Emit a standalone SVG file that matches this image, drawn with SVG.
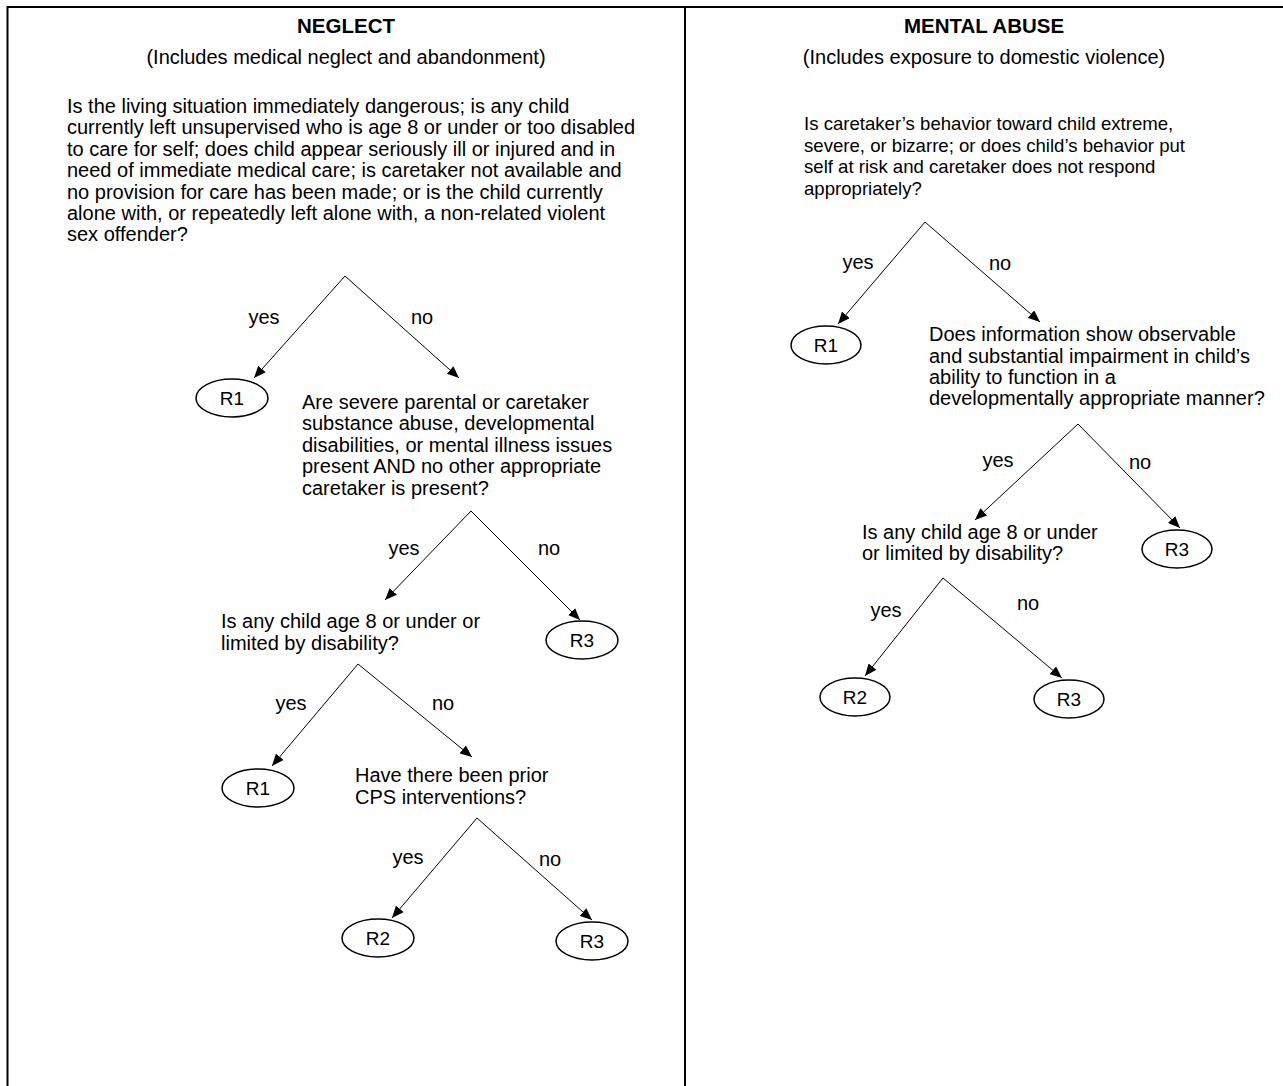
<svg xmlns="http://www.w3.org/2000/svg" width="1283" height="1086" viewBox="0 0 1283 1086">
<style>
text{font-family:"Liberation Sans",Arial,sans-serif;font-size:20px;fill:#000}
.h{font-weight:bold;font-size:20.5px;text-anchor:middle}
.c{text-anchor:middle}
.lbl{text-anchor:middle}
.rt{text-anchor:middle;font-size:19px}
.sm{font-size:18.6px}
.r{fill:#fff;stroke:#000;stroke-width:1.5}
.ln{stroke:#000;stroke-width:1;fill:none;marker-end:url(#ah)}
.b{stroke:#000;stroke-width:2;fill:none}
</style>
<defs>
<marker id="ah" markerUnits="userSpaceOnUse" markerWidth="12" markerHeight="10" refX="12" refY="5" orient="auto">
<path d="M0,0 L12,5 L0,10 z" fill="#000"/>
</marker>
</defs>
<rect width="1283" height="1086" fill="#fff"/>
<g id="frame">
<line class="b" x1="7" y1="7" x2="1283" y2="7"/>
<line class="b" x1="7.5" y1="6" x2="7.5" y2="1086"/>
<line class="b" x1="685" y1="6" x2="685" y2="1086"/>
</g>
<g id="connectors">
<line class="ln" x1="345" y1="276" x2="254" y2="378"/>
<line class="ln" x1="345" y1="276" x2="459" y2="378"/>
<line class="ln" x1="471" y1="511" x2="385" y2="600"/>
<line class="ln" x1="471" y1="511" x2="580" y2="620"/>
<line class="ln" x1="358" y1="664" x2="272" y2="766"/>
<line class="ln" x1="358" y1="664" x2="472" y2="757"/>
<line class="ln" x1="477" y1="818" x2="392" y2="918"/>
<line class="ln" x1="477" y1="818" x2="592" y2="920"/>
<line class="ln" x1="925" y1="222" x2="838" y2="324"/>
<line class="ln" x1="925" y1="222" x2="1040" y2="322"/>
<line class="ln" x1="1078" y1="424" x2="975" y2="520"/>
<line class="ln" x1="1078" y1="424" x2="1180" y2="528"/>
<line class="ln" x1="943" y1="578" x2="865" y2="676"/>
<line class="ln" x1="943" y1="578" x2="1062" y2="678"/>
<text class="lbl" x="264" y="324">yes</text>
<text class="lbl" x="422" y="324">no</text>
<text class="lbl" x="404" y="555">yes</text>
<text class="lbl" x="549" y="555">no</text>
<text class="lbl" x="291" y="710">yes</text>
<text class="lbl" x="443" y="710">no</text>
<text class="lbl" x="408" y="864">yes</text>
<text class="lbl" x="550" y="866">no</text>
<text class="lbl" x="858" y="269">yes</text>
<text class="lbl" x="1000" y="270">no</text>
<text class="lbl" x="998" y="467">yes</text>
<text class="lbl" x="1140" y="469">no</text>
<text class="lbl" x="886" y="617">yes</text>
<text class="lbl" x="1028" y="610">no</text>
</g>
<g id="neglect-title">
<text class="h" x="346" y="33">NEGLECT</text>
<text class="c" x="346" y="64">(Includes medical neglect and abandonment)</text>
</g>
<g id="n-q1">
<text x="67" y="113">Is the living situation immediately dangerous; is any child</text>
<text x="67" y="134">currently left unsupervised who is age 8 or under or too disabled</text>
<text x="67" y="156">to care for self; does child appear seriously ill or injured and in</text>
<text x="67" y="177">need of immediate medical care; is caretaker not available and</text>
<text x="67" y="199">no provision for care has been made; or is the child currently</text>
<text x="67" y="220">alone with, or repeatedly left alone with, a non-related violent</text>
<text x="67" y="241">sex offender?</text>
</g>
<g id="n-r1a"><ellipse class="r" cx="232" cy="398" rx="36" ry="19"/><text class="rt" x="232" y="405">R1</text></g>
<g id="n-q2">
<text x="302" y="409">Are severe parental or caretaker</text>
<text x="302" y="430">substance abuse, developmental</text>
<text x="302" y="452">disabilities, or mental illness issues</text>
<text x="302" y="473">present AND no other appropriate</text>
<text x="302" y="495">caretaker is present?</text>
</g>
<g id="n-q3">
<text x="221" y="628">Is any child age 8 or under or</text>
<text x="221" y="650">limited by disability?</text>
</g>
<g id="n-r3a"><ellipse class="r" cx="582" cy="640" rx="36" ry="19"/><text class="rt" x="582" y="647">R3</text></g>
<g id="n-r1b"><ellipse class="r" cx="258" cy="788" rx="36" ry="19"/><text class="rt" x="258" y="795">R1</text></g>
<g id="n-q4">
<text x="355" y="782">Have there been prior</text>
<text x="355" y="804">CPS interventions?</text>
</g>
<g id="n-r2"><ellipse class="r" cx="378" cy="938" rx="36" ry="19"/><text class="rt" x="378" y="945">R2</text></g>
<g id="n-r3b"><ellipse class="r" cx="592" cy="941" rx="36" ry="19"/><text class="rt" x="592" y="948">R3</text></g>
<g id="mental-title">
<text class="h" x="984" y="33">MENTAL ABUSE</text>
<text class="c" x="984" y="64">(Includes exposure to domestic violence)</text>
</g>
<g id="m-q1">
<text class="sm" x="804" y="130">Is caretaker’s behavior toward child extreme,</text>
<text class="sm" x="804" y="152">severe, or bizarre; or does child’s behavior put</text>
<text class="sm" x="804" y="173">self at risk and caretaker does not respond</text>
<text class="sm" x="804" y="195">appropriately?</text>
</g>
<g id="m-r1"><ellipse class="r" cx="826" cy="345" rx="35" ry="19"/><text class="rt" x="826" y="352">R1</text></g>
<g id="m-q2">
<text x="929" y="341">Does information show observable</text>
<text x="929" y="363">and substantial impairment in child’s</text>
<text x="929" y="384">ability to function in a</text>
<text x="929" y="405">developmentally appropriate manner?</text>
</g>
<g id="m-r3a"><ellipse class="r" cx="1177" cy="549" rx="35" ry="19"/><text class="rt" x="1177" y="556">R3</text></g>
<g id="m-q3">
<text x="862" y="539">Is any child age 8 or under</text>
<text x="862" y="560">or limited by disability?</text>
</g>
<g id="m-r2"><ellipse class="r" cx="855" cy="697" rx="35" ry="19"/><text class="rt" x="855" y="704">R2</text></g>
<g id="m-r3b"><ellipse class="r" cx="1069" cy="699" rx="35" ry="19"/><text class="rt" x="1069" y="706">R3</text></g>
</svg>
